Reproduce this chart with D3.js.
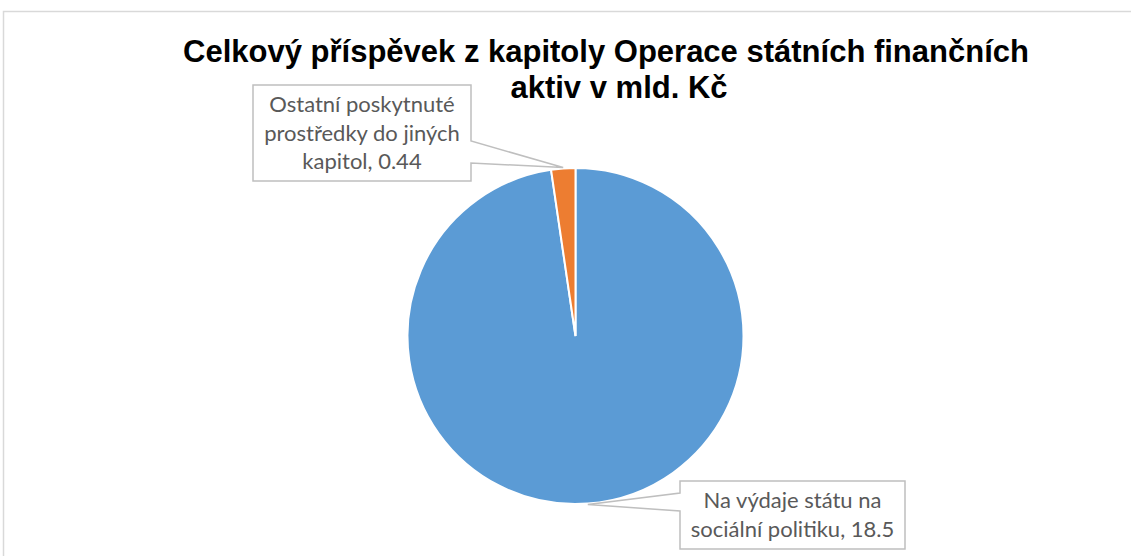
<!DOCTYPE html>
<html>
<head>
<meta charset="utf-8">
<title>Celkový příspěvek z kapitoly Operace státních finančních aktiv</title>
<script src="https://d3js.org/d3.v7.min.js"></script>
<style>
  body { margin: 0; background: #fff; }
  .label { font-family: Lato, "Open Sans", sans-serif; font-size: 22px; fill: #595959; }
  .title { font-family: "Liberation Sans", Arial, sans-serif; font-size: 31px; font-weight: bold; fill: #000; }
</style>
</head>
<body>
<div id="chart"></div>
<script>
// data
var categories = ["Na výdaje státu na sociální politiku", "Ostatní poskytnuté prostředky do jiných kapitol"];
var values = [18.5, 0.44];
var valueLabels = ["18.5", "0.44"];
var colors = ["#5b9bd5", "#ed7d31"];

var width = 1131, height = 556;
var cx = 575.5, cy = 336, radius = 168;

var svg = d3.select("#chart").append("svg")
    .attr("width", width)
    .attr("height", height);

// chart area border
svg.append("rect")
    .attr("x", 3.5).attr("y", 11.5)
    .attr("width", width + 10).attr("height", height + 10)
    .attr("fill", "#fff")
    .attr("stroke", "#d9d9d9")
    .attr("stroke-width", 1.5);

// title
var title = svg.append("text").attr("class", "title").attr("text-anchor", "middle");
title.append("tspan").attr("x", 606).attr("y", 62).text("Celkový příspěvek z kapitoly Operace státních finančních");
title.append("tspan").attr("x", 619).attr("y", 98).text("aktiv v mld. Kč");

// pie
var data = categories.map(function(c, i) { return {name: c, value: values[i], label: valueLabels[i], color: colors[i]}; });
var pie = d3.pie().sort(null).value(function(d) { return d.value; });
var arc = d3.arc().innerRadius(0).outerRadius(radius);
var arcs = pie(data);

var g = svg.append("g").attr("transform", "translate(" + cx + "," + cy + ")");
g.selectAll("path")
  .data(arcs)
  .enter().append("path")
    .attr("d", arc)
    .attr("fill", function(d) { return d.data.color; })
    .attr("stroke", "#fff")
    .attr("stroke-width", 2);

// point on the outer edge at the slice's middle angle
function tip(a) {
  var m = (a.startAngle + a.endAngle) / 2;
  return [cx + Math.sin(m) * (radius + 1), cy - Math.cos(m) * (radius + 1)];
}

// callout boxes (position of each box, pointer side)
var boxes = [
  {x0: 680, y0: 481, x1: 905, y1: 549, side: "left", p0: 493, p1: 511,
   lines: ["Na výdaje státu na", "sociální politiku, " + valueLabels[0]], base: 508},
  {x0: 253, y0: 85, x1: 471, y1: 181, side: "right", p0: 141, p1: 163,
   lines: ["Ostatní poskytnuté", "prostředky do jiných", "kapitol, " + valueLabels[1]], base: 112}
];

boxes.forEach(function(b, i) {
  var t = tip(arcs[i]);
  var path;
  if (b.side === "left") {
    path = "M" + b.x0 + "," + b.y0 + "H" + b.x1 + "V" + b.y1 + "H" + b.x0 +
      "V" + b.p1 + "L" + t[0] + "," + t[1] + "L" + b.x0 + "," + b.p0 + "Z";
  } else {
    path = "M" + b.x0 + "," + b.y0 + "H" + b.x1 + "V" + b.p0 + "L" + t[0] + "," + t[1] +
      "L" + b.x1 + "," + b.p1 + "V" + b.y1 + "H" + b.x0 + "Z";
  }
  svg.append("path")
    .attr("d", path)
    .attr("fill", "#fff")
    .attr("stroke", "#bfbfbf")
    .attr("stroke-width", 1.5);

  var txt = svg.append("text").attr("class", "label").attr("text-anchor", "middle");
  b.lines.forEach(function(l, j) {
    txt.append("tspan")
      .attr("x", (b.x0 + b.x1) / 2)
      .attr("y", b.base + j * 28.5)
      .text(l);
  });
});
</script>
</body>
</html>
